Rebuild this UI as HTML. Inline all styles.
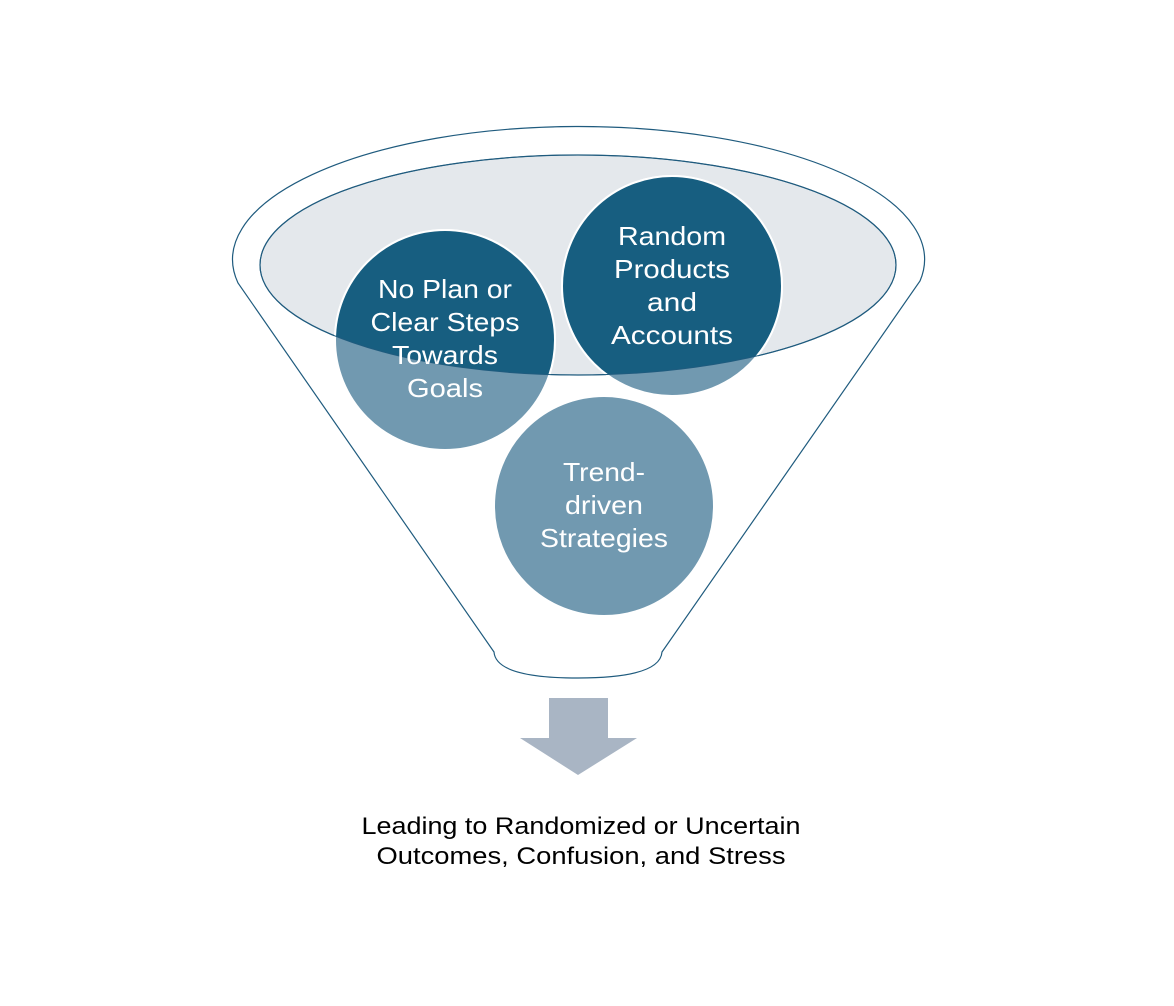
<!DOCTYPE html>
<html><head><meta charset="utf-8"><style>
html,body{margin:0;padding:0;background:#fff;}
svg{display:block;}
text{font-family:"Liberation Sans",sans-serif;}
</style></head><body>
<svg width="1174" height="1006" viewBox="0 0 1174 1006" xmlns="http://www.w3.org/2000/svg">
<defs>
<clipPath id="inner"><ellipse cx="578" cy="265" rx="318" ry="110"/></clipPath>
</defs>
<path d="M238,283 A346,133 0 1 1 920,281 L662,652 Q660,678 578,678 Q496,678 494,652 Z" fill="none" stroke="#1f5b7e" stroke-width="1.2"/>
<ellipse cx="578" cy="265" rx="318" ry="110" fill="#e4e8ec" stroke="#1f5b7e" stroke-width="1.2"/>
<g stroke="#fff" stroke-width="2" fill="#7199b0">
<circle cx="445" cy="340" r="110"/>
<circle cx="672" cy="286" r="110"/>
<circle cx="604" cy="506" r="110"/>
</g>
<g clip-path="url(#inner)" fill="#175e80" stroke="#fff" stroke-width="2">
<circle cx="445" cy="340" r="110"/>
<circle cx="672" cy="286" r="110"/>
</g>
<ellipse cx="578" cy="265" rx="318" ry="110" fill="none" stroke="#1f5b7e" stroke-width="1"/>
<g fill="#fff" font-size="26" text-anchor="middle" lengthAdjust="spacingAndGlyphs">
<text x="445" y="298" textLength="134" lengthAdjust="spacingAndGlyphs">No Plan or</text>
<text x="445" y="331" textLength="149" lengthAdjust="spacingAndGlyphs">Clear Steps</text>
<text x="445" y="364" textLength="106" lengthAdjust="spacingAndGlyphs">Towards</text>
<text x="445" y="397" textLength="76" lengthAdjust="spacingAndGlyphs">Goals</text>
<text x="672" y="245" textLength="108" lengthAdjust="spacingAndGlyphs">Random</text>
<text x="672" y="278" textLength="116" lengthAdjust="spacingAndGlyphs">Products</text>
<text x="672" y="311" textLength="50" lengthAdjust="spacingAndGlyphs">and</text>
<text x="672" y="344" textLength="122" lengthAdjust="spacingAndGlyphs">Accounts</text>
<text x="604" y="481" textLength="82" lengthAdjust="spacingAndGlyphs">Trend-</text>
<text x="604" y="514" textLength="78" lengthAdjust="spacingAndGlyphs">driven</text>
<text x="604" y="547" textLength="128" lengthAdjust="spacingAndGlyphs">Strategies</text>
</g>
<path d="M549,698 L608,698 L608,738 L637,738 L578,775 L520,738 L549,738 Z" fill="#a9b5c4"/>
<g fill="#000" font-size="24" text-anchor="middle">
<text x="581" y="834" textLength="439" lengthAdjust="spacingAndGlyphs">Leading to Randomized or Uncertain</text>
<text x="581" y="864" textLength="409" lengthAdjust="spacingAndGlyphs">Outcomes, Confusion, and Stress</text>
</g>
</svg>
</body></html>
